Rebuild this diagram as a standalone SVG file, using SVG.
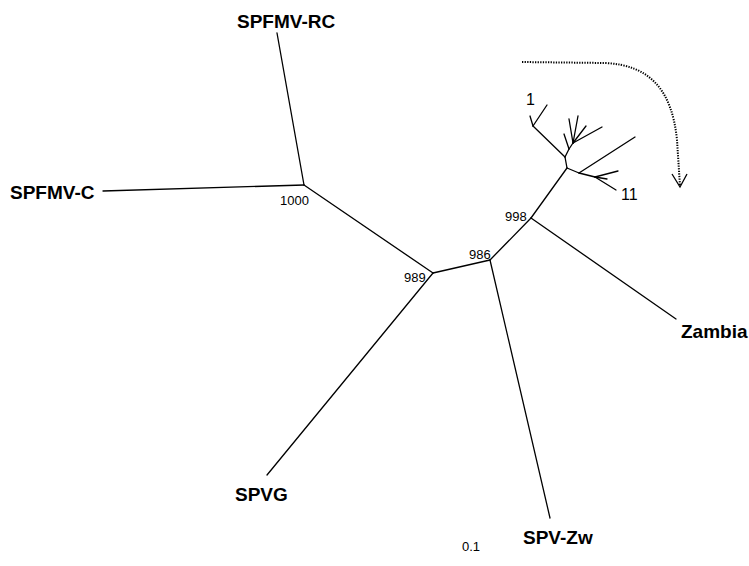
<svg xmlns="http://www.w3.org/2000/svg" width="749" height="566" viewBox="0 0 749 566">
<style>
.br{stroke:#000;stroke-width:1.3;fill:none;stroke-linecap:round}
.lab{font-family:"Liberation Sans",Arial,sans-serif;font-weight:bold;font-size:19px;fill:#000}
.bs{font-family:"Liberation Sans",Arial,sans-serif;font-size:13px;fill:#000}
.num{font-family:"Liberation Sans",Arial,sans-serif;font-size:16px;fill:#000}
</style>
<rect width="749" height="566" fill="#fff"/>
<g id="connectors">
<line class="br" x1="277" y1="33" x2="304" y2="185"/>
<line class="br" x1="103" y1="191" x2="304" y2="185"/>
<line class="br" x1="304" y1="185" x2="433" y2="273"/>
<line class="br" x1="433" y1="273" x2="267" y2="475"/>
<line class="br" x1="433" y1="273" x2="490" y2="260"/>
<line class="br" x1="490" y1="260" x2="550" y2="518"/>
<line class="br" x1="490" y1="260" x2="531" y2="218"/>
<line class="br" x1="531" y1="218" x2="676" y2="319"/>
<line class="br" x1="531" y1="218" x2="567" y2="168"/>
<line class="br" x1="567" y1="168" x2="565" y2="157"/>
<line class="br" x1="565" y1="157" x2="533" y2="126"/>
<line class="br" x1="533" y1="126" x2="530" y2="116"/>
<line class="br" x1="533" y1="126" x2="547" y2="105"/>
<line class="br" x1="565" y1="157" x2="569" y2="149"/>
<line class="br" x1="569" y1="149" x2="564" y2="134"/>
<line class="br" x1="569" y1="149" x2="573" y2="143"/>
<line class="br" x1="573" y1="143" x2="569" y2="119"/>
<line class="br" x1="573" y1="143" x2="578" y2="116"/>
<line class="br" x1="573" y1="143" x2="586" y2="126"/>
<line class="br" x1="573" y1="143" x2="602" y2="127"/>
<line class="br" x1="567" y1="168" x2="579" y2="173"/>
<line class="br" x1="579" y1="173" x2="635" y2="137"/>
<line class="br" x1="579" y1="173" x2="595" y2="177"/>
<line class="br" x1="595" y1="177" x2="618" y2="171"/>
<line class="br" x1="595" y1="177" x2="616" y2="190"/>
<line class="br" x1="595" y1="177" x2="607" y2="179"/>
</g>
<g id="arrow">
<path d="M522,62 L605,63 C650,65 672,90 677,140 L680,186" fill="none" stroke="#000" stroke-width="2" stroke-dasharray="1.3,1.3"/>
<polyline points="672,174 680,187 687,174" fill="none" stroke="#000" stroke-width="1.3"/>
</g>
<g id="node-SPFMV-RC"><text class="lab" x="237" y="28">SPFMV-RC</text></g>
<g id="node-SPFMV-C"><text class="lab" x="10" y="199">SPFMV-C</text></g>
<g id="node-Zambia"><text class="lab" x="681" y="338">Zambia</text></g>
<g id="node-SPVG"><text class="lab" x="235" y="501">SPVG</text></g>
<g id="node-SPV-Zw"><text class="lab" x="523" y="544">SPV-Zw</text></g>
<g id="node-1000"><text class="bs" x="280" y="205">1000</text></g>
<g id="node-989"><text class="bs" x="404" y="282">989</text></g>
<g id="node-986"><text class="bs" x="469" y="259">986</text></g>
<g id="node-998"><text class="bs" x="505" y="221">998</text></g>
<g id="node-1"><text class="num" x="526" y="105">1</text></g>
<g id="node-11"><text class="num" x="621" y="200">11</text></g>
<g id="scale"><text class="bs" x="462" y="551">0.1</text></g>
</svg>
